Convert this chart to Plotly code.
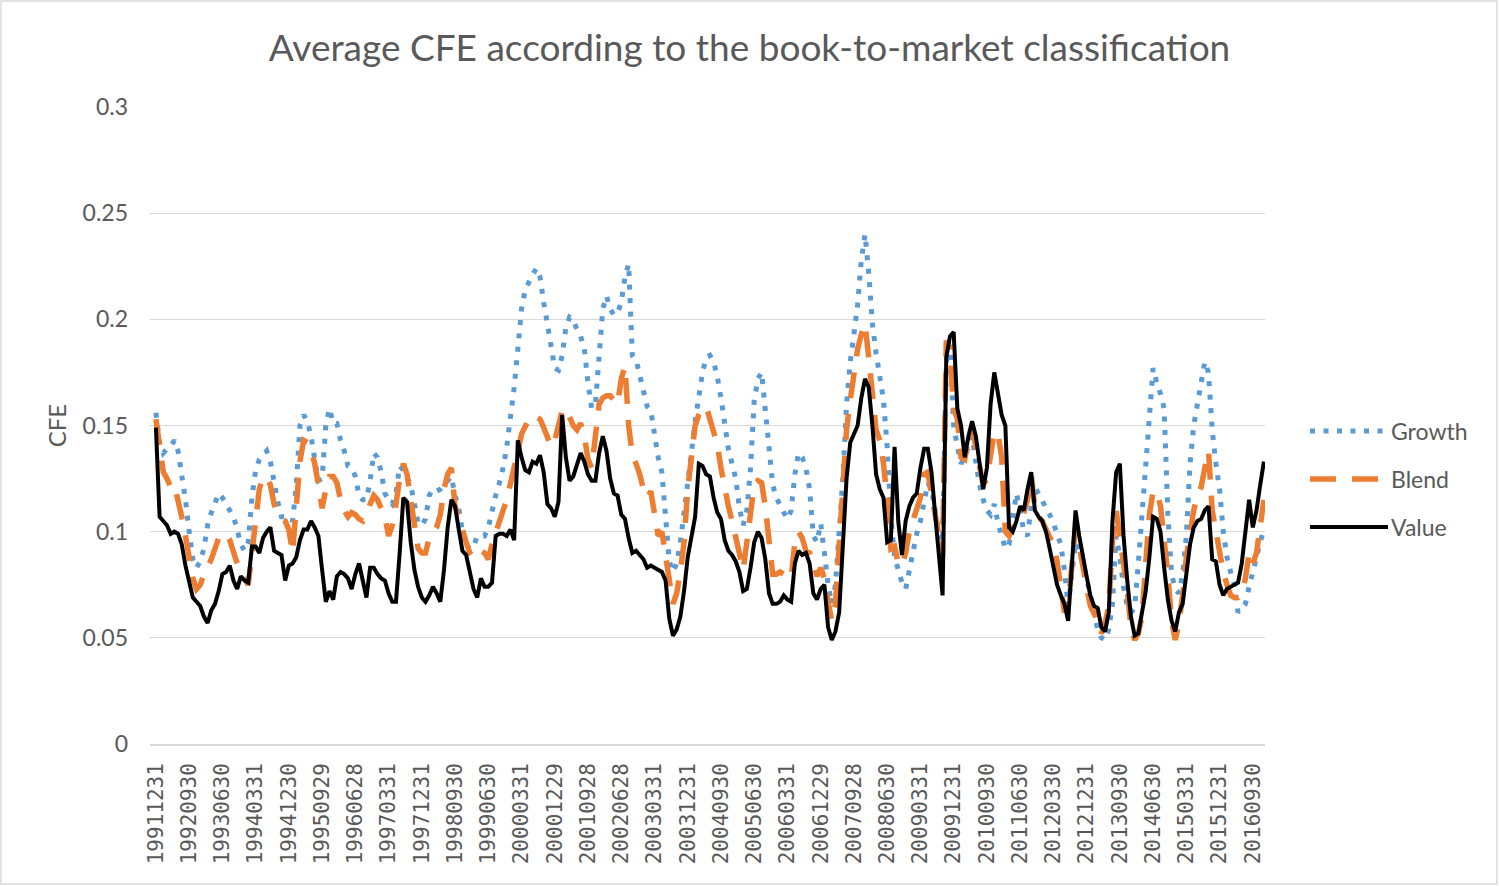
import plotly.graph_objects as go

TITLE = "Average CFE according to the book-to-market classification"
Y_TITLE = "CFE"
SERIES_NAMES = ["Growth", "Blend", "Value"]

# x tick labels (every 9th month of the monthly series, 1991-12 .. 2016-12)
TICK_LABELS = ["19911231", "19920930", "19930630", "19940331", "19941230", "19950929",
               "19960628", "19970331", "19971231", "19980930", "19990630", "20000331",
               "20001229", "20010928", "20020628", "20030331", "20031231", "20040930",
               "20050630", "20060331", "20061229", "20070928", "20080630", "20090331",
               "20091231", "20100930", "20110630", "20120330", "20121231", "20130930",
               "20140630", "20150331", "20151231", "20160930"]
TICK_STEP = 9

Y_TICKS = [0, 0.05, 0.1, 0.15, 0.2, 0.25, 0.3]
Y_TICK_TEXT = ["0", "0.05", "0.1", "0.15", "0.2", "0.25", "0.3"]

growth = [
    0.156, 0.142, 0.137, 0.139, 0.140, 0.143, 0.138, 0.128, 0.115, 0.100,
    0.087, 0.083, 0.086, 0.092, 0.103, 0.109, 0.113, 0.118, 0.116, 0.113,
    0.111, 0.107, 0.101, 0.094, 0.091, 0.095, 0.116, 0.129, 0.134, 0.136,
    0.138, 0.133, 0.122, 0.114, 0.107, 0.107, 0.107, 0.105, 0.122, 0.150,
    0.155, 0.152, 0.145, 0.134, 0.124, 0.125, 0.150, 0.158, 0.151, 0.151,
    0.143, 0.138, 0.131, 0.130, 0.126, 0.117, 0.115, 0.115, 0.124, 0.137,
    0.135, 0.128, 0.118, 0.115, 0.113, 0.118, 0.131, 0.129, 0.125, 0.122,
    0.113, 0.104, 0.103, 0.106, 0.117, 0.120, 0.119, 0.120, 0.122, 0.124,
    0.126, 0.117, 0.111, 0.100, 0.092, 0.094, 0.093, 0.098, 0.098, 0.098,
    0.102, 0.110, 0.117, 0.123, 0.130, 0.140, 0.152, 0.168, 0.186, 0.205,
    0.214, 0.218, 0.221, 0.224, 0.220, 0.208, 0.198, 0.185, 0.177, 0.176,
    0.183, 0.196, 0.201, 0.200, 0.195, 0.192, 0.186, 0.170, 0.158, 0.160,
    0.185, 0.205, 0.211, 0.205, 0.202, 0.203, 0.208, 0.220, 0.226, 0.183,
    0.181, 0.174, 0.165, 0.159, 0.157, 0.144, 0.135, 0.128, 0.105, 0.086,
    0.081, 0.085, 0.095, 0.108, 0.125, 0.137, 0.152, 0.165, 0.175, 0.182,
    0.183, 0.180, 0.173, 0.163, 0.149, 0.139, 0.132, 0.125, 0.111, 0.103,
    0.110, 0.130, 0.162, 0.172, 0.175, 0.157, 0.143, 0.122, 0.116, 0.112,
    0.109, 0.106, 0.110, 0.127, 0.137, 0.135, 0.130, 0.120, 0.098, 0.095,
    0.104, 0.090, 0.075, 0.066, 0.075, 0.100, 0.125, 0.160, 0.180, 0.193,
    0.207, 0.228, 0.240, 0.222, 0.198, 0.184, 0.172, 0.162, 0.140, 0.107,
    0.088, 0.082, 0.076, 0.073, 0.082, 0.091, 0.099, 0.105, 0.115, 0.123,
    0.120, 0.110, 0.100, 0.095, 0.180, 0.188, 0.150, 0.140, 0.132, 0.135,
    0.140, 0.145, 0.133, 0.122, 0.115, 0.110, 0.108, 0.113, 0.104, 0.098,
    0.092, 0.094, 0.108, 0.118, 0.110, 0.100, 0.098, 0.112, 0.121, 0.118,
    0.115, 0.111, 0.108, 0.104, 0.099, 0.094, 0.082, 0.065, 0.080, 0.095,
    0.090, 0.086, 0.078, 0.070, 0.062, 0.054, 0.050, 0.049, 0.054, 0.066,
    0.098, 0.088, 0.074, 0.065, 0.062, 0.064, 0.085, 0.108, 0.130, 0.152,
    0.177, 0.170, 0.165, 0.158, 0.108, 0.080, 0.073, 0.071, 0.080, 0.098,
    0.132, 0.150, 0.161, 0.170, 0.180, 0.175, 0.148, 0.132, 0.120, 0.100,
    0.088, 0.081, 0.075, 0.062, 0.064, 0.066, 0.074, 0.082, 0.088, 0.095,
    0.101,
]

blend = [
    0.153, 0.142, 0.128, 0.125, 0.121, 0.122, 0.115, 0.107, 0.098, 0.089,
    0.078, 0.073, 0.075, 0.080, 0.083, 0.087, 0.092, 0.097, 0.099, 0.099,
    0.096, 0.090, 0.085, 0.081, 0.078, 0.075, 0.090, 0.108, 0.120, 0.126,
    0.125, 0.122, 0.113, 0.108, 0.106, 0.105, 0.101, 0.090, 0.110, 0.133,
    0.143, 0.142, 0.138, 0.132, 0.122, 0.111, 0.120, 0.126, 0.126, 0.123,
    0.115, 0.110, 0.107, 0.109, 0.108, 0.106, 0.105, 0.108, 0.113, 0.117,
    0.115, 0.111, 0.107, 0.098, 0.103, 0.113, 0.125, 0.132, 0.127, 0.115,
    0.104, 0.092, 0.090, 0.090, 0.097, 0.099, 0.102, 0.108, 0.120, 0.127,
    0.130, 0.112, 0.107, 0.100, 0.095, 0.090, 0.088, 0.091, 0.091, 0.090,
    0.087, 0.094, 0.100, 0.105, 0.110, 0.115, 0.122, 0.130, 0.138, 0.146,
    0.150, 0.153, 0.155, 0.154, 0.153, 0.149, 0.144, 0.140, 0.143, 0.150,
    0.157, 0.158, 0.154, 0.150, 0.148, 0.151, 0.145, 0.134, 0.130, 0.145,
    0.160, 0.163, 0.164, 0.164, 0.162, 0.160, 0.172, 0.178, 0.150, 0.136,
    0.132, 0.127, 0.120, 0.116, 0.119, 0.108, 0.098, 0.100, 0.088, 0.075,
    0.066, 0.071, 0.081, 0.095, 0.120, 0.135, 0.150, 0.155, 0.158, 0.159,
    0.153, 0.147, 0.141, 0.130, 0.120, 0.112, 0.105, 0.098, 0.091, 0.082,
    0.095, 0.110, 0.122, 0.124, 0.123, 0.112, 0.095, 0.080, 0.080, 0.081,
    0.080, 0.078, 0.078, 0.095, 0.100, 0.097, 0.091, 0.090, 0.085, 0.079,
    0.083, 0.078, 0.067, 0.058, 0.066, 0.095, 0.120, 0.148, 0.162, 0.175,
    0.186, 0.193, 0.198, 0.182, 0.166, 0.148, 0.143, 0.132, 0.115, 0.092,
    0.093, 0.085, 0.084, 0.090, 0.100, 0.106, 0.111, 0.116, 0.127, 0.128,
    0.118, 0.108, 0.100, 0.088, 0.190, 0.186, 0.158, 0.153, 0.135, 0.134,
    0.144, 0.149, 0.140, 0.130, 0.122, 0.125, 0.137, 0.147, 0.146, 0.135,
    0.100, 0.098, 0.102, 0.104, 0.106, 0.109, 0.115, 0.127, 0.111, 0.107,
    0.105, 0.101, 0.098, 0.094, 0.086, 0.072, 0.062, 0.066, 0.085, 0.102,
    0.093, 0.082, 0.074, 0.065, 0.061, 0.058, 0.052, 0.057, 0.065, 0.095,
    0.110, 0.098, 0.085, 0.072, 0.055, 0.049, 0.052, 0.060, 0.085, 0.108,
    0.119, 0.119, 0.112, 0.098, 0.080, 0.058, 0.049, 0.057, 0.070, 0.088,
    0.100, 0.110, 0.117, 0.121, 0.130, 0.138, 0.110, 0.099, 0.090, 0.081,
    0.075, 0.070, 0.069, 0.069, 0.071, 0.078, 0.090, 0.085, 0.090, 0.101,
    0.115,
]

value = [
    0.149, 0.107, 0.105, 0.103, 0.099, 0.100, 0.099, 0.094, 0.084, 0.076,
    0.069, 0.067, 0.065, 0.060, 0.057, 0.063, 0.066, 0.072, 0.080, 0.081,
    0.084, 0.077, 0.073, 0.079, 0.077, 0.076, 0.093, 0.093, 0.090, 0.097,
    0.100, 0.102, 0.091, 0.090, 0.089, 0.077, 0.084, 0.085, 0.088, 0.096,
    0.101, 0.101, 0.105, 0.102, 0.098, 0.082, 0.067, 0.072, 0.068, 0.079,
    0.081, 0.080, 0.078, 0.073, 0.080, 0.085, 0.076, 0.069, 0.083, 0.083,
    0.080, 0.078, 0.077, 0.071, 0.067, 0.067, 0.090, 0.116, 0.114, 0.095,
    0.082, 0.074, 0.069, 0.067, 0.070, 0.074, 0.071, 0.067, 0.082, 0.102,
    0.115, 0.112, 0.101, 0.091, 0.089, 0.080, 0.073, 0.069, 0.078, 0.074,
    0.074, 0.076, 0.098, 0.099, 0.099, 0.098, 0.101, 0.096, 0.143, 0.135,
    0.129, 0.128, 0.133, 0.132, 0.136, 0.128, 0.113, 0.111, 0.107, 0.114,
    0.155, 0.135, 0.124, 0.126, 0.131, 0.137, 0.133, 0.127, 0.124, 0.124,
    0.137, 0.145, 0.138, 0.125, 0.118, 0.117, 0.108, 0.106, 0.097, 0.090,
    0.091, 0.089, 0.087, 0.083, 0.084, 0.083, 0.082, 0.081, 0.077, 0.059,
    0.051, 0.054, 0.060, 0.072, 0.088, 0.097, 0.107, 0.132, 0.131, 0.127,
    0.126, 0.116, 0.109, 0.106, 0.096, 0.091, 0.089, 0.086, 0.081, 0.072,
    0.073, 0.083, 0.095, 0.100, 0.097, 0.087, 0.071, 0.066, 0.066, 0.067,
    0.070, 0.068, 0.067, 0.085, 0.091, 0.089, 0.090, 0.085, 0.071, 0.068,
    0.073, 0.075, 0.055, 0.049, 0.053, 0.062, 0.090, 0.125, 0.142, 0.146,
    0.150, 0.163, 0.172, 0.168, 0.150, 0.127, 0.120, 0.116, 0.095, 0.096,
    0.140, 0.105, 0.089, 0.105, 0.112, 0.116, 0.118, 0.130, 0.139, 0.139,
    0.128, 0.108, 0.087, 0.070, 0.182, 0.192, 0.194, 0.158, 0.150, 0.135,
    0.145, 0.152, 0.145, 0.132, 0.120, 0.130, 0.160, 0.175, 0.166, 0.155,
    0.150, 0.102, 0.100, 0.105, 0.112, 0.110, 0.120, 0.128, 0.110, 0.107,
    0.105, 0.100, 0.092, 0.084, 0.075, 0.070, 0.066, 0.058, 0.085, 0.110,
    0.098, 0.087, 0.079, 0.070, 0.065, 0.064, 0.055, 0.053, 0.062, 0.105,
    0.128, 0.132, 0.098, 0.077, 0.060, 0.051, 0.052, 0.062, 0.072, 0.088,
    0.107, 0.106, 0.100, 0.083, 0.068, 0.058, 0.053, 0.062, 0.066, 0.080,
    0.094, 0.102, 0.105, 0.106, 0.110, 0.112, 0.087, 0.086, 0.075, 0.070,
    0.073, 0.074, 0.075, 0.076, 0.085, 0.100, 0.115, 0.102, 0.110, 0.122,
    0.133,
]

COLORS = ["#5B9BD5", "#ED7D31", "#000000"]
WIDTHS = [5, 5.5, 4]
DASHES = ["5px,8.5px", "26px,16px", "solid"]
TEXT_COLOR = "#595959"
GRID_COLOR = "#D9D9D9"
SANS = "Lato, Carlito, sans-serif"

W, H = 1499, 886
ML, MR, MT, MB = 150, 234, 107, 142
PW, PH = W - ML - MR, H - MT - MB

n = len(value)
x = list(range(n))

fig = go.Figure()
for name, ys, c, w, d in zip(SERIES_NAMES, [growth, blend, value], COLORS, WIDTHS, DASHES):
    fig.add_trace(go.Scatter(x=x, y=ys, mode="lines", name=name, showlegend=False,
                             line=dict(color=c, width=w, dash=d)))


def px_x(p):
    return (p - ML) / PW


def px_y(p):
    return (H - MB - p) / PH


# manual legend (long line samples like the original)
leg_rows = [431, 479, 527]
shapes = []
annotations = []
for name, c, w, d, yy in zip(SERIES_NAMES, COLORS, WIDTHS, DASHES, leg_rows):
    shapes.append(dict(type="line", xref="paper", yref="paper",
                       x0=px_x(1310), x1=px_x(1388), y0=px_y(yy), y1=px_y(yy),
                       line=dict(color=c, width=w, dash=d)))
    annotations.append(dict(text=name, xref="paper", yref="paper", x=px_x(1389), y=px_y(yy),
                            xanchor="left", yanchor="middle", showarrow=False,
                            font=dict(family=SANS, size=23, color=TEXT_COLOR)))

# outer chart border
shapes.append(dict(type="rect", xref="paper", yref="paper",
                   x0=px_x(1), x1=px_x(W - 2), y0=px_y(H - 2), y1=px_y(1),
                   line=dict(color=GRID_COLOR, width=1.5), fillcolor="rgba(0,0,0,0)"))

fig.update_layout(
    width=W, height=H,
    margin=dict(l=ML, r=MR, t=MT, b=MB),
    paper_bgcolor="white", plot_bgcolor="white",
    title=dict(text=TITLE, x=0.5, xref="container", xanchor="center",
               y=1 - 48 / H, yref="container", yanchor="middle",
               font=dict(family=SANS, size=37, color=TEXT_COLOR)),
    xaxis=dict(range=[-1.6, n - 0.7], tickmode="array",
               tickvals=list(range(0, n, TICK_STEP))[:len(TICK_LABELS)], ticktext=TICK_LABELS,
               tickangle=-90, showgrid=False, zeroline=False,
               showline=True, linecolor=GRID_COLOR, linewidth=1.5,
               ticks="", ticklabelstandoff=9,
               tickfont=dict(family="DejaVu Sans Mono, monospace", size=21, color=TEXT_COLOR)),
    yaxis=dict(range=[0, 0.3], tickmode="array", tickvals=Y_TICKS, ticktext=Y_TICK_TEXT,
               showgrid=True, gridcolor=GRID_COLOR, gridwidth=1.2, zeroline=False,
               showline=False, ticks="", ticklabelstandoff=21,
               tickfont=dict(family=SANS, size=23, color=TEXT_COLOR),
               title=dict(text=Y_TITLE, standoff=9,
                          font=dict(family=SANS, size=24, color=TEXT_COLOR))),
    shapes=shapes, annotations=annotations,
)

fig.write_html("out.html", config={"displayModeBar": False},
               post_script="document.body.style.margin='0px';")
